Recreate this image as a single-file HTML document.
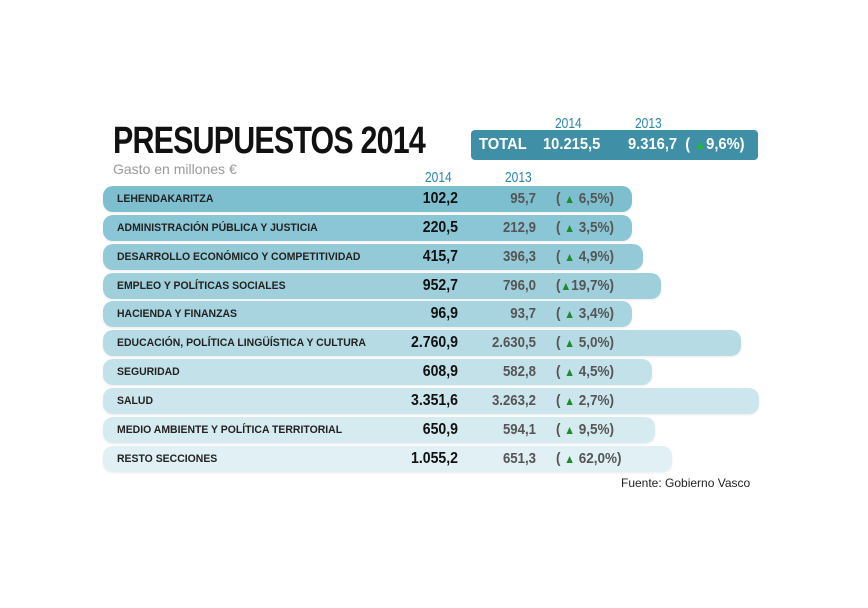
<!DOCTYPE html>
<html><head><meta charset="utf-8"><style>
body{margin:0;width:868px;height:608px;background:#fff;font-family:"Liberation Sans",sans-serif;position:relative;overflow:hidden}
.a{position:absolute;white-space:nowrap}
.bar{position:absolute;left:103px;height:26px;border-radius:10px;box-shadow:0 1px 2px rgba(0,0,0,.08)}
.lab{position:absolute;left:117px;font-size:11px;font-weight:bold;color:#222;line-height:26px;transform:scaleX(.95);transform-origin:left}
.v1{position:absolute;width:100px;left:358px;text-align:right;font-size:16px;font-weight:bold;color:#111;line-height:26px;transform:scaleX(.88);transform-origin:right}
.v2{position:absolute;width:100px;left:436px;text-align:right;font-size:15px;font-weight:bold;color:#555;line-height:26px;transform:scaleX(.88);transform-origin:right}
.p{position:absolute;left:556px;font-size:15px;font-weight:bold;color:#555;line-height:26px;transform:scaleX(.9);transform-origin:left}
.t{color:#1e8a2e;font-size:12px}
.yr{position:absolute;font-size:15px;color:#2a86a6;transform:scaleX(.8);transform-origin:left}
</style></head><body>
<div class="a" style="left:113px;top:120px;font-size:38px;font-weight:bold;color:#111;transform:scaleX(.8);transform-origin:left;letter-spacing:-1px">PRESUPUESTOS 2014</div>
<div class="a" style="left:113px;top:161px;font-size:14px;color:#999">Gasto en millones €</div>
<div class="yr" style="left:425px;top:169px">2014</div>
<div class="yr" style="left:505px;top:169px">2013</div>
<div class="yr" style="left:555px;top:115px">2014</div>
<div class="yr" style="left:635px;top:115px">2013</div>
<div class="a" style="left:471px;top:130px;width:287px;height:30px;background:#3f8fa6;border-radius:4px"></div>
<div class="a" style="left:479px;top:130px;line-height:30px;font-size:16px;font-weight:bold;color:#fff;transform:scaleX(.92);transform-origin:left">TOTAL</div>
<div class="a" style="left:543px;top:130px;line-height:30px;font-size:16px;font-weight:bold;color:#fff;transform:scaleX(.92);transform-origin:left">10.215,5</div>
<div class="a" style="left:628px;top:130px;line-height:30px;font-size:16px;font-weight:bold;color:#fff;transform:scaleX(.92);transform-origin:left">9.316,7&nbsp; ( <span style="color:#22b83a;font-size:13px">▲</span>9,6%)</div>

<div class="bar" style="top:186px;width:529px;background:#7dbfcf"></div>
<div class="bar" style="top:215px;width:529px;background:#8ac6d5"></div>
<div class="bar" style="top:244px;width:540px;background:#94cad8"></div>
<div class="bar" style="top:273px;width:558px;background:#9ecfdb"></div>
<div class="bar" style="top:301px;width:529px;background:#a8d4df"></div>
<div class="bar" style="top:330px;width:638px;background:#b7dbe4"></div>
<div class="bar" style="top:359px;width:549px;background:#c3e1e9"></div>
<div class="bar" style="top:388px;width:656px;background:#cde6ed"></div>
<div class="bar" style="top:417px;width:552px;background:#d6ebf0"></div>
<div class="bar" style="top:446px;width:569px;background:#e0f0f4"></div>

<div class="lab" style="top:186px">LEHENDAKARITZA</div><div class="v1" style="top:186px">102,2</div><div class="v2" style="top:186px">95,7</div><div class="p" style="top:186px">( <span class="t">▲</span> 6,5%)</div>
<div class="lab" style="top:215px">ADMINISTRACIÓN PÚBLICA Y JUSTICIA</div><div class="v1" style="top:215px">220,5</div><div class="v2" style="top:215px">212,9</div><div class="p" style="top:215px">( <span class="t">▲</span> 3,5%)</div>
<div class="lab" style="top:244px">DESARROLLO ECONÓMICO Y COMPETITIVIDAD</div><div class="v1" style="top:244px">415,7</div><div class="v2" style="top:244px">396,3</div><div class="p" style="top:244px">( <span class="t">▲</span> 4,9%)</div>
<div class="lab" style="top:273px">EMPLEO Y POLÍTICAS SOCIALES</div><div class="v1" style="top:273px">952,7</div><div class="v2" style="top:273px">796,0</div><div class="p" style="top:273px">(<span class="t">▲</span>19,7%)</div>
<div class="lab" style="top:301px">HACIENDA Y FINANZAS</div><div class="v1" style="top:301px">96,9</div><div class="v2" style="top:301px">93,7</div><div class="p" style="top:301px">( <span class="t">▲</span> 3,4%)</div>
<div class="lab" style="top:330px">EDUCACIÓN, POLÍTICA LINGÜÍSTICA Y CULTURA</div><div class="v1" style="top:330px">2.760,9</div><div class="v2" style="top:330px">2.630,5</div><div class="p" style="top:330px">( <span class="t">▲</span> 5,0%)</div>
<div class="lab" style="top:359px">SEGURIDAD</div><div class="v1" style="top:359px">608,9</div><div class="v2" style="top:359px">582,8</div><div class="p" style="top:359px">( <span class="t">▲</span> 4,5%)</div>
<div class="lab" style="top:388px">SALUD</div><div class="v1" style="top:388px">3.351,6</div><div class="v2" style="top:388px">3.263,2</div><div class="p" style="top:388px">( <span class="t">▲</span> 2,7%)</div>
<div class="lab" style="top:417px">MEDIO AMBIENTE Y POLÍTICA TERRITORIAL</div><div class="v1" style="top:417px">650,9</div><div class="v2" style="top:417px">594,1</div><div class="p" style="top:417px">( <span class="t">▲</span> 9,5%)</div>
<div class="lab" style="top:446px">RESTO SECCIONES</div><div class="v1" style="top:446px">1.055,2</div><div class="v2" style="top:446px">651,3</div><div class="p" style="top:446px">( <span class="t">▲</span> 62,0%)</div>

<div class="a" style="left:621px;top:476px;font-size:12px;color:#222">Fuente: Gobierno Vasco</div>
</body></html>
